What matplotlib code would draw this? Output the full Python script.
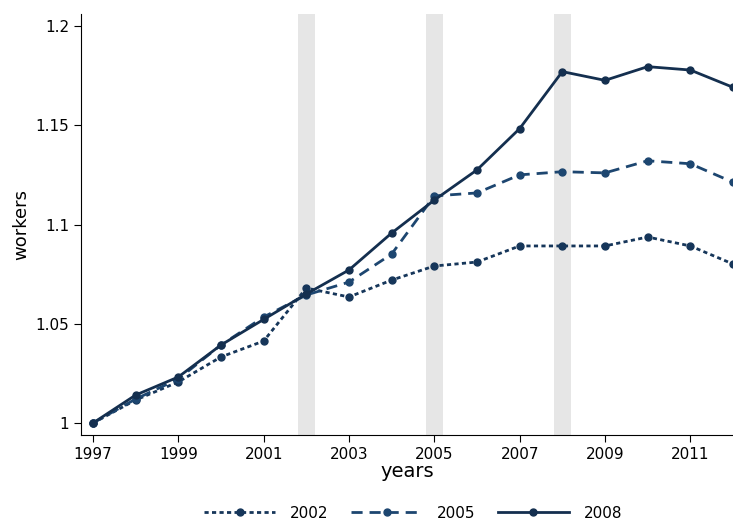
import matplotlib.pyplot as plt

years = list(range(1997, 2013))

s2002 = [1.0, 1.0116, 1.0207, 1.0333, 1.0413, 1.068, 1.0635, 1.072,
         1.0791, 1.0811, 1.0892, 1.0892, 1.0892, 1.0937, 1.0892, 1.0801]
s2005 = [1.0, 1.0121, 1.0222, 1.0393, 1.0534, 1.0645, 1.071, 1.0851,
         1.1144, 1.1159, 1.125, 1.1266, 1.126, 1.1321, 1.1306, 1.1213]
s2008 = [1.0, 1.0141, 1.0232, 1.0393, 1.0522, 1.065, 1.0771, 1.0957,
         1.1123, 1.1275, 1.1483, 1.177, 1.1726, 1.1795, 1.1778, 1.1691]

band_years = [2002, 2005, 2008]
series_names = ['2002', '2005', '2008']

fig = plt.figure(figsize=(7.33, 5.2), dpi=100)
ax = fig.add_axes([0.1105, 0.1635, 0.8895, 0.8095])

for b in band_years:
    ax.axvspan(b - 0.2, b + 0.2, color='#e6e6e6', lw=0, zorder=0)

ax.plot(years, s2002, ls=(0, (1.5, 1.2)), color='#16365a', lw=2,
        marker='o', ms=5, label=series_names[0])
ax.plot(years, s2005, ls=(0, (4, 2.5)), color='#1d4670', lw=2,
        marker='o', ms=5, label=series_names[1])
ax.plot(years, s2008, ls='-', color='#142f4f', lw=2,
        marker='o', ms=5, label=series_names[2])

ax.set_xlim(1996.72, 2012)
ax.set_ylim(0.994, 1.206)
ax.set_xticks(range(1997, 2013, 2))
ax.set_yticks([1.0, 1.05, 1.1, 1.15, 1.2])
ax.set_yticklabels(['1', '1.05', '1.1', '1.15', '1.2'])
ax.tick_params(labelsize=11, direction='out', length=5)
ax.spines['top'].set_visible(False)
ax.spines['right'].set_visible(False)

ax.set_xlabel('years', fontsize=14, labelpad=0)
ax.set_ylabel('workers', fontsize=13)

fig.legend(loc='center', bbox_to_anchor=(0.564, 0.013), ncol=3,
           frameon=False, fontsize=11, handlelength=4.6, handletextpad=1.0,
           columnspacing=1.5)

fig.savefig('out.png', dpi=100)
